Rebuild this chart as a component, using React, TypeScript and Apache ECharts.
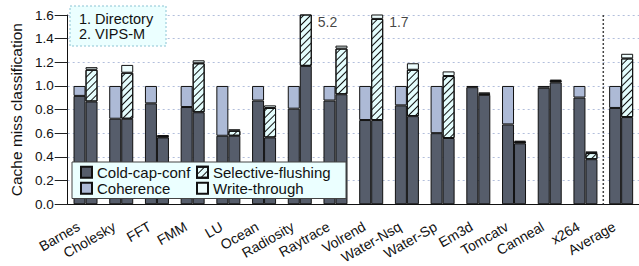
import React, { useEffect, useRef } from "react";
import * as echarts from "echarts";

const categories = ["Barnes", "Cholesky", "FFT", "FMM", "LU", "Ocean", "Radiosity", "Raytrace", "Volrend", "Water-Nsq", "Water-Sp", "Em3d", "Tomcatv", "Canneal", "x264", "Average"];

// Directory bars
const dirCold = [0.916, 0.723, 0.853, 0.822, 0.579, 0.877, 0.808, 0.877, 0.712, 0.836, 0.601, 0.99, 0.675, 0.985, 0.902, 0.814];
const dirCoh = [0.084, 0.277, 0.147, 0.178, 0.421, 0.123, 0.192, 0.123, 0.288, 0.164, 0.399, 0.01, 0.325, 0.015, 0.098, 0.186];

// VIPS-M bars
const vipsCold = [0.869, 0.723, 0.565, 0.778, 0.579, 0.565, 1.17, 0.93, 0.712, 0.745, 0.56, 0.925, 0.515, 1.03, 0.381, 0.737];
const vipsSF = [0.268, 0.389, 0.01, 0.414, 0.042, 0.249, 4.0, 0.386, 0.855, 0.392, 0.524, 0.01, 0.012, 0.012, 0.052, 0.496];
const vipsWT = [0.022, 0.066, 0.01, 0.025, 0.013, 0.022, 0.03, 0.025, 0.133, 0.055, 0.039, 0.01, 0.01, 0.012, 0.014, 0.039];

const yTicks = ["0.0", "0.2", "0.4", "0.6", "0.8", "1.0", "1.2", "1.4", "1.6"];
const yMax = 1.6;
const configNames = ["1. Directory", "2. VIPS-M"];
const separatorBefore = "Average";

const FONT = "Liberation Sans, Arial, Helvetica, sans-serif";
const C_COLD = "#565d6b";
const C_COH = "#adbad6";
const C_SF = "#e4fdfd";
const C_WT = "#eefefe";
const BORDER = "#111";

export default function App() {
  const ref = useRef<HTMLDivElement>(null);
  useEffect(() => {
    document.body.style.margin = "0";
    if (!ref.current) return;
    const chart = echarts.init(ref.current, undefined, { renderer: "svg" });
    const labelStyle = { color: "#111", fontSize: 14, fontFamily: FONT, textBorderWidth: 0 };
    const overflow = categories
      .map((c, i) => ({ c, t: vipsCold[i] + vipsSF[i] + vipsWT[i] }))
      .filter((d) => d.t > yMax)
      .map((d) => ({ value: [d.c, yMax], label: { ...labelStyle, formatter: d.t.toFixed(1) } }));

    const baseBar = {
      type: "bar",
      barWidth: 12,
      barGap: "0%",
      itemStyle: { borderColor: BORDER, borderWidth: 1 },
    };
    const hatch = {
      symbol: "rect",
      color: "#111",
      dashArrayX: [1, 0],
      dashArrayY: [1, 3.2],
      rotation: -Math.PI / 4,
    };

    const staticGraphics: any[] = [
      {
        id: "box1",
        type: "rect",
        z: 5,
        shape: { x: 70, y: 6, width: 96, height: 40 },
        style: { fill: "#ebffff", stroke: "#8cc4d4", lineWidth: 1, lineDash: [2, 2] },
      },
      ...configNames.map((t, i) => ({
        id: "cfg" + i,
        type: "text",
        z: 6,
        x: 79,
        y: 18.5 + i * 15,
        style: {
          text: t,
          fontSize: 14.5,
          fill: "#111",
          fontFamily: FONT,
          verticalAlign: "middle",
        },
      })),
      {
        id: "box2",
        type: "rect",
        z: 5,
        shape: { x: 72, y: 162, width: 274, height: 36.5 },
        style: { fill: "#ebffff", stroke: "#444", lineWidth: 1 },
      },
    ];

    chart.setOption({
      animation: false,
      textStyle: { fontFamily: FONT },
      grid: { left: 61, top: 15, bottom: 58, right: -5, containLabel: false },
      xAxis: {
        type: "category",
        data: categories,
        axisLine: { lineStyle: { color: "#111", width: 1 } },
        axisTick: { alignWithLabel: true, length: 10, lineStyle: { color: "#777" } },
        axisLabel: {
          rotate: 30,
          interval: 0,
          fontSize: 14,
          color: "#111",
          fontFamily: FONT,
          margin: 17,
          padding: [0, 8, 0, 0],
        },
        splitLine: { show: false },
      },
      yAxis: {
        type: "value",
        min: 0,
        max: yMax,
        interval: 0.2,
        name: "Cache miss classification",
        nameLocation: "middle",
        nameGap: 23,
        nameTextStyle: { fontSize: 15.5, color: "#111", fontFamily: FONT },
        axisLine: { show: true, lineStyle: { color: "#111", width: 1 } },
        axisTick: { show: true, length: 13, lineStyle: { color: "#222" } },
        axisLabel: {
          fontSize: 13.5,
          color: "#111",
          margin: 14,
          fontFamily: FONT,
          formatter: (v: number) => yTicks[Math.round(v / 0.2)] ?? v.toFixed(1),
        },
        splitLine: { show: true, lineStyle: { color: "#b3bfdc", type: [2, 3], width: 1 } },
      },
      legend: [
        {
          orient: "vertical",
          left: 80,
          top: 164.8,
          padding: 0,
          itemGap: 1,
          itemWidth: 11,
          itemHeight: 11,
          icon: "rect",
          z: 10,
          selectedMode: false,
          data: ["Cold-cap-conf", "Coherence"],
          textStyle: { fontSize: 15, color: "#111", fontFamily: FONT, lineHeight: 15 },
        },
        {
          orient: "vertical",
          left: 196,
          top: 164.8,
          padding: 0,
          itemGap: 1,
          itemWidth: 11,
          itemHeight: 11,
          icon: "rect",
          z: 10,
          selectedMode: false,
          data: ["Selective-flushing", "Write-through"],
          textStyle: { fontSize: 15, color: "#111", fontFamily: FONT, lineHeight: 15 },
        },
      ],
      graphic: staticGraphics,
      series: [
        { ...baseBar, name: "Cold-cap-conf", stack: "dir", data: dirCold, itemStyle: { ...baseBar.itemStyle, color: C_COLD } },
        { ...baseBar, name: "Coherence", stack: "dir", data: dirCoh, itemStyle: { ...baseBar.itemStyle, color: C_COH } },
        { ...baseBar, name: "Cold-cap-conf", stack: "vips", data: vipsCold, itemStyle: { ...baseBar.itemStyle, color: C_COLD } },
        { ...baseBar, name: "Selective-flushing", stack: "vips", data: vipsSF, itemStyle: { ...baseBar.itemStyle, color: C_SF, decal: hatch } },
        { ...baseBar, name: "Write-through", stack: "vips", data: vipsWT, itemStyle: { ...baseBar.itemStyle, color: C_WT } },
        {
          type: "scatter",
          name: "overflow",
          symbolSize: 0,
          data: overflow,
          clip: false,
          z: 12,
          label: {
            show: true,
            position: "right",
            distance: 18,
            offset: [0, 6.5],
            ...labelStyle,
          },
        },
      ],
    });

    // dotted separator between the last benchmark and the average
    const idx = categories.indexOf(separatorBefore);
    const pA = chart.convertToPixel({ gridIndex: 0 }, [categories[idx - 1], 0]) as number[];
    const pB = chart.convertToPixel({ gridIndex: 0 }, [categories[idx], yMax]) as number[];
    const sx = (pA[0] + pB[0]) / 2;
    chart.setOption({
      graphic: [
        ...staticGraphics,
        {
          id: "sep",
          type: "line",
          z: 1,
          shape: { x1: sx, y1: pB[1], x2: sx, y2: pA[1] },
          style: { stroke: "#444", lineWidth: 1.5, lineDash: [2, 2] },
        },
      ],
    });
    return () => chart.dispose();
  }, []);
  return <div ref={ref} style={{ width: 639, height: 266 }} />;
}
